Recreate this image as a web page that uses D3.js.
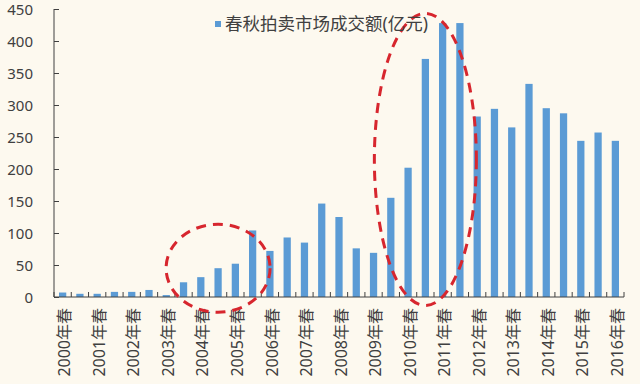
<!DOCTYPE html>
<html>
<head>
<meta charset="utf-8">
<script src="https://cdn.jsdelivr.net/npm/d3@7"></script>
<style>
  body { margin: 0; background: #fdf9ef; }
  svg { display: block; }
  text { font-family: "Noto Sans", "Noto Sans CJK SC", sans-serif; fill: #404040; }
</style>
</head>
<body>
<svg width="640" height="384"></svg>
<script>
// 每年春、秋两季（最后一个为2016年春）
var years = ["2000","2001","2002","2003","2004","2005","2006","2007","2008",
             "2009","2010","2011","2012","2013","2014","2015","2016"];
var seasons = ["春","秋"];
var categories = [];
years.forEach(function(y){
  seasons.forEach(function(s){
    if (y === "2016" && s === "秋") return;
    categories.push(y + "年" + s);
  });
});
var values = [7, 5, 5, 8, 8, 11, 3, 23, 31, 45, 52, 104, 72, 93, 85, 146, 125,
              76, 69, 155, 202, 372, 428, 428, 282, 294, 265, 333, 295, 287,
              244, 257, 244];
var yTicks = [0, 50, 100, 150, 200, 250, 300, 350, 400, 450];
var legendLabel = "春秋拍卖市场成交额(亿元)";
// 红色虚线圈：中心所在类别、中心数值
var circleCats = ["2004年秋", "2010年秋"];
var circleVals = [45, 215];

var svg = d3.select("svg"),
    margin = {left: 54, right: 16, top: 9, bottom: 87},
    width = +svg.attr("width") - margin.left - margin.right,
    height = +svg.attr("height") - margin.top - margin.bottom;

var x = d3.scaleBand().domain(categories).range([0, width]).paddingInner(0.58).paddingOuter(0.29);
var xb = d3.scaleBand().domain(categories).range([0, width]);
var y = d3.scaleLinear().domain([0, 450]).range([height, 0]);

var g = svg.append("g").attr("transform", "translate(" + margin.left + "," + margin.top + ")");

g.append("g").selectAll("rect")
  .data(values)
  .enter().append("rect")
  .attr("x", function(d, i){ return x(categories[i]); })
  .attr("y", function(d){ return y(d); })
  .attr("width", x.bandwidth())
  .attr("height", function(d){ return height - y(d); })
  .attr("fill", "#5b9bd5");

// y 轴
var yAxis = g.append("g")
  .call(d3.axisLeft(y).tickValues(yTicks).tickSize(-5).tickPadding(21));
yAxis.select(".domain").attr("stroke", "#404040").attr("d", "M0," + height + "V0");
yAxis.selectAll(".tick line").attr("stroke", "#404040");
yAxis.selectAll("text").style("font-size", "15px").attr("fill", "#404040").attr("dy", "0.38em");

// x 轴：刻度线在类别边界
var xAxis = g.append("g").attr("transform", "translate(0," + height + ")");
xAxis.append("line").attr("x1", 0).attr("x2", width).attr("stroke", "#404040");
xAxis.selectAll(".bt")
  .data(categories.concat(["end"]))
  .enter().append("line")
  .attr("class", "bt")
  .attr("x1", function(d, i){ return i * xb.bandwidth(); })
  .attr("x2", function(d, i){ return i * xb.bandwidth(); })
  .attr("y1", 0).attr("y2", -5)
  .attr("stroke", "#404040");
xAxis.selectAll(".lbl")
  .data(categories.filter(function(d, i){ return i % 2 === 0; }))
  .enter().append("text")
  .attr("class", "lbl")
  .attr("transform", function(d){
    return "translate(" + (xb(d) + xb.bandwidth() / 2 + 2) + "," + 11 + ") rotate(-90)";
  })
  .attr("text-anchor", "end")
  .attr("dy", "0.35em")
  .style("font-size", "16px")
  .text(function(d){ return d; });

// 图例
var legend = svg.append("g").attr("transform", "translate(215,24)");
legend.append("rect").attr("x", 0).attr("y", -3).attr("width", 6).attr("height", 6).attr("fill", "#5b9bd5");
legend.append("text").attr("x", 10).attr("dy", "0.35em").style("font-size", "17.5px").text(legendLabel);

// 虚线椭圆
var rads = [[52, 44], [51, 146]];
g.selectAll(".ring")
  .data(circleCats)
  .enter().append("ellipse")
  .attr("class", "ring")
  .attr("cx", function(d){ return xb(d) + xb.bandwidth() / 2; })
  .attr("cy", function(d, i){ return y(circleVals[i]); })
  .attr("rx", function(d, i){ return rads[i][0]; })
  .attr("ry", function(d, i){ return rads[i][1]; })
  .attr("fill", "none")
  .attr("stroke", "#d7262e")
  .attr("stroke-width", 3)
  .attr("stroke-dasharray", "10,7");
</script>
</body>
</html>
